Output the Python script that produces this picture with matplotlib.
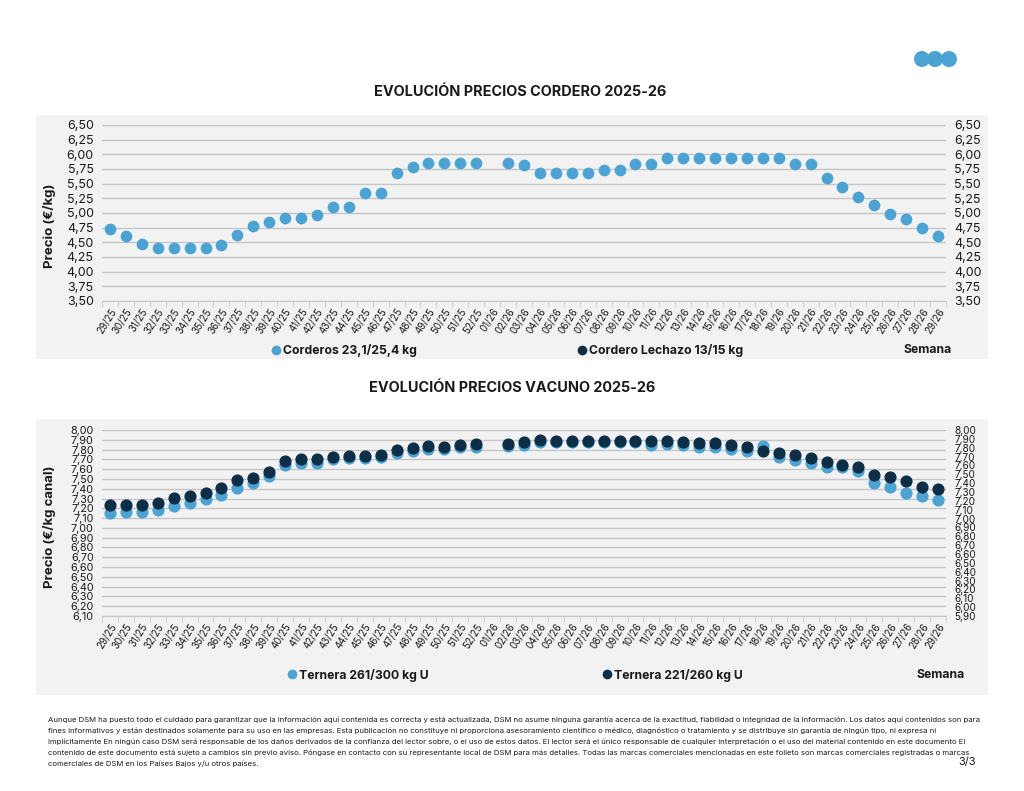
import numpy as np
import matplotlib
matplotlib.use("Agg")
import matplotlib.pyplot as plt
from matplotlib.patches import Rectangle, Ellipse
from matplotlib.lines import Line2D
from matplotlib.ticker import FuncFormatter, MultipleLocator

plt.rcParams['font.family'] = ['Inter', 'DejaVu Sans']

# semanas 29/25 .. 29/26
semanas = [f"{w}/25" for w in range(29, 53)] + [f"{w:02d}/26" for w in range(1, 30)]
nan = np.nan

corderos = [4.72, 4.60, 4.47, 4.40, 4.40, 4.40, 4.40, 4.45, 4.63, 4.78, 4.85, 4.92,
            4.92, 4.96, 5.10, 5.10, 5.34, 5.34, 5.68, 5.78, 5.85, 5.85, 5.85, 5.85,
            nan, 5.85, 5.81, 5.69, 5.69, 5.69, 5.69, 5.73, 5.73, 5.83, 5.83, 5.93,
            5.93, 5.93, 5.93, 5.93, 5.93, 5.93, 5.93, 5.83, 5.83, 5.60, 5.44, 5.28,
            5.14, 4.99, 4.89, 4.74, 4.60]
lechazo = [nan] * len(semanas)   # sin datos visibles

ternera_261_300 = [7.15, 7.16, 7.16, 7.18, 7.22, 7.25, 7.30, 7.34, 7.41, 7.46, 7.53, 7.64,
                   7.66, 7.66, 7.70, 7.71, 7.71, 7.72, 7.76, 7.79, 7.81, 7.81, 7.83, 7.83,
                   nan, 7.84, 7.85, 7.88, 7.88, 7.88, 7.88, 7.88, 7.88, 7.88, 7.85, 7.86,
                   7.85, 7.83, 7.83, 7.81, 7.79, 7.84, 7.72, 7.69, 7.66, 7.62, 7.62, 7.58,
                   7.46, 7.42, 7.36, 7.33, 7.28]
ternera_221_260 = [7.15, 7.15, 7.15, 7.18, 7.23, 7.26, 7.29, 7.34, 7.43, 7.46, 7.53, 7.65,
                   7.67, 7.67, 7.70, 7.71, 7.71, 7.72, 7.77, 7.80, 7.82, 7.81, 7.83, 7.84,
                   nan, 7.84, 7.86, 7.89, 7.88, 7.88, 7.88, 7.88, 7.88, 7.88, 7.88, 7.88,
                   7.86, 7.85, 7.85, 7.83, 7.81, 7.76, 7.74, 7.72, 7.68, 7.64, 7.61, 7.58,
                   7.49, 7.47, 7.42, 7.36, 7.33]

LIGHT = '#4aa3d3'
DARK = '#0c2f47'
PANEL = '#f2f2f2'
GRID = '#c6c6c6'
TXT = '#1a1a1a'

W, H = 1024, 791
fig = plt.figure(figsize=(W / 100, H / 100), dpi=100)


def fx(px):
    return px / W


def fy(py):
    return 1 - py / H


def coma(v, pos):
    return f"{v:.2f}".replace('.', ',')


# paneles grises
for top, bot in [(115, 359), (419, 695)]:
    fig.patches.append(Rectangle((fx(36), fy(bot)), fx(988 - 36), (bot - top) / H,
                                 transform=fig.transFigure, facecolor=PANEL,
                                 edgecolor='none', zorder=-5))

# logo
for cx in (922, 935, 949):
    fig.patches.append(Ellipse((fx(cx), fy(59)), 16 / W, 16 / H, transform=fig.transFigure,
                               facecolor=LIGHT, edgecolor='none', zorder=-5))


def setup(ax, ylo, yhi, step, fs):
    x = np.arange(len(semanas))
    ax.set_facecolor('none')
    ax.set_xlim(-0.5, len(semanas) - 0.5)
    ax.set_ylim(ylo, yhi)
    ax.yaxis.set_major_locator(MultipleLocator(step))
    ax.yaxis.set_major_formatter(FuncFormatter(coma))
    ax.grid(axis='y', color=GRID, linewidth=1)
    ax.set_axisbelow(True)
    for s in ['top', 'right', 'left']:
        ax.spines[s].set_visible(False)
    ax.spines['bottom'].set_color(GRID)
    ax.set_xticks(x)
    ax.set_xticklabels(semanas, rotation=58, ha='right', rotation_mode='anchor',
                       fontsize=7, color=TXT)
    ax.set_xticks(np.arange(-0.5, len(semanas)), minor=True)
    ax.tick_params(axis='x', which='major', length=0, pad=4)
    ax.tick_params(axis='x', which='minor', length=4, color=GRID)
    ax.tick_params(axis='y', length=0, labelsize=fs, labelcolor=TXT, pad=6)
    return x


# ---- Cordero ----
ax1 = fig.add_axes([fx(102), fy(301), fx(946 - 102), (301 - 125) / H])
x = setup(ax1, 3.5, 6.5, 0.25, 9)
ax1.scatter(x, lechazo, s=55, color=DARK, zorder=3)
ax1.scatter(x, corderos, s=55, color=LIGHT, zorder=4)
ax1.set_ylabel('Precio (€/kg)', fontsize=9.5, fontweight='bold', color=TXT)
ax1.yaxis.set_label_coords(-0.055, 0.43)
ax1r = ax1.twinx()
ax1r.set_ylim(3.5, 6.5)
ax1r.yaxis.set_major_locator(MultipleLocator(0.25))
ax1r.yaxis.set_major_formatter(FuncFormatter(coma))
ax1r.tick_params(axis='y', length=0, labelsize=9, labelcolor=TXT, pad=6)
for s in ax1r.spines.values():
    s.set_visible(False)

fig.text(0.508, fy(92), 'EVOLUCIÓN PRECIOS CORDERO 2025-26', ha='center', va='center',
         fontsize=10.4, fontweight='bold', color=TXT)

# ---- Vacuno ----
ax2 = fig.add_axes([fx(102), fy(616), fx(946 - 102), (616 - 430) / H])
x = setup(ax2, 6.1, 8.0, 0.1, 7.8)
ax2.scatter(x, ternera_261_300, s=60, color=LIGHT, zorder=3)
ax2.set_ylabel('Precio (€/kg canal)', fontsize=9.5, fontweight='bold', color=TXT)
ax2.yaxis.set_label_coords(-0.055, 0.48)
ax2r = ax2.twinx()
ax2r.set_ylim(5.9, 8.0)
ax2r.yaxis.set_major_locator(MultipleLocator(0.1))
ax2r.yaxis.set_major_formatter(FuncFormatter(coma))
ax2r.tick_params(axis='y', length=0, labelsize=7.2, labelcolor=TXT, pad=6)
for s in ax2r.spines.values():
    s.set_visible(False)
ax2r.scatter(x, ternera_221_260, s=60, color=DARK, zorder=4)

fig.text(0.5, fy(388), 'EVOLUCIÓN PRECIOS VACUNO 2025-26', ha='center', va='center',
         fontsize=10.4, fontweight='bold', color=TXT)

# leyendas
def entry(px, py, color, label):
    h = Line2D([], [], marker='o', linestyle='none', markersize=7,
               markerfacecolor=color, markeredgecolor='none')
    leg = fig.legend([h], [label], loc='center left', bbox_to_anchor=(fx(px), fy(py)),
                     frameon=False, handletextpad=0.1, handlelength=1.0,
                     borderaxespad=0, borderpad=0,
                     prop={'size': 8.8, 'weight': 'bold'})
    for t in leg.get_texts():
        t.set_color(TXT)


entry(270, 351, LIGHT, 'Corderos 23,1/25,4 kg')
entry(576, 351, DARK, 'Cordero Lechazo 13/15 kg')
fig.text(fx(952), fy(350), 'Semana', ha='right', va='center', fontsize=8.8,
         fontweight='bold', color=TXT)
entry(286, 675, LIGHT, 'Ternera 261/300 kg U')
entry(601, 675, DARK, 'Ternera 221/260 kg U')
fig.text(fx(965), fy(675), 'Semana', ha='right', va='center', fontsize=8.8,
         fontweight='bold', color=TXT)

aviso = [
    "Aunque DSM ha puesto todo el cuidado para garantizar que la información aquí contenida es correcta y está actualizada, DSM no asume ninguna garantía acerca de la exactitud, fiabilidad o integridad de la información. Los datos aquí contenidos son para",
    "fines informativos y están destinados solamente para su uso en las empresas. Esta publicación no constituye ni proporciona asesoramiento científico o médico, diagnóstico o tratamiento y se distribuye sin garantía de ningún tipo, ni expresa ni",
    "implícitamente En ningún caso DSM será responsable de los daños derivados de la confianza del lector sobre, o el uso de estos datos. El lector será el único responsable de cualquier interpretación o el uso del material contenido en este documento El",
    "contenido de este documento está sujeto a cambios sin previo aviso. Póngase en contacto con su representante local de DSM para más detalles. Todas las marcas comerciales mencionadas en este folleto son marcas comerciales registradas o marcas",
    "comerciales de DSM en los Países Bajos y/u otros países.",
]
for i, line in enumerate(aviso):
    fig.text(fx(48), fy(720 + i * 11), line, ha='left', va='center', fontsize=5.6, color=TXT)
fig.text(fx(976), fy(762), '3/3', ha='right', va='center', fontsize=8, color=TXT)

fig.savefig('out.png', dpi=100)
